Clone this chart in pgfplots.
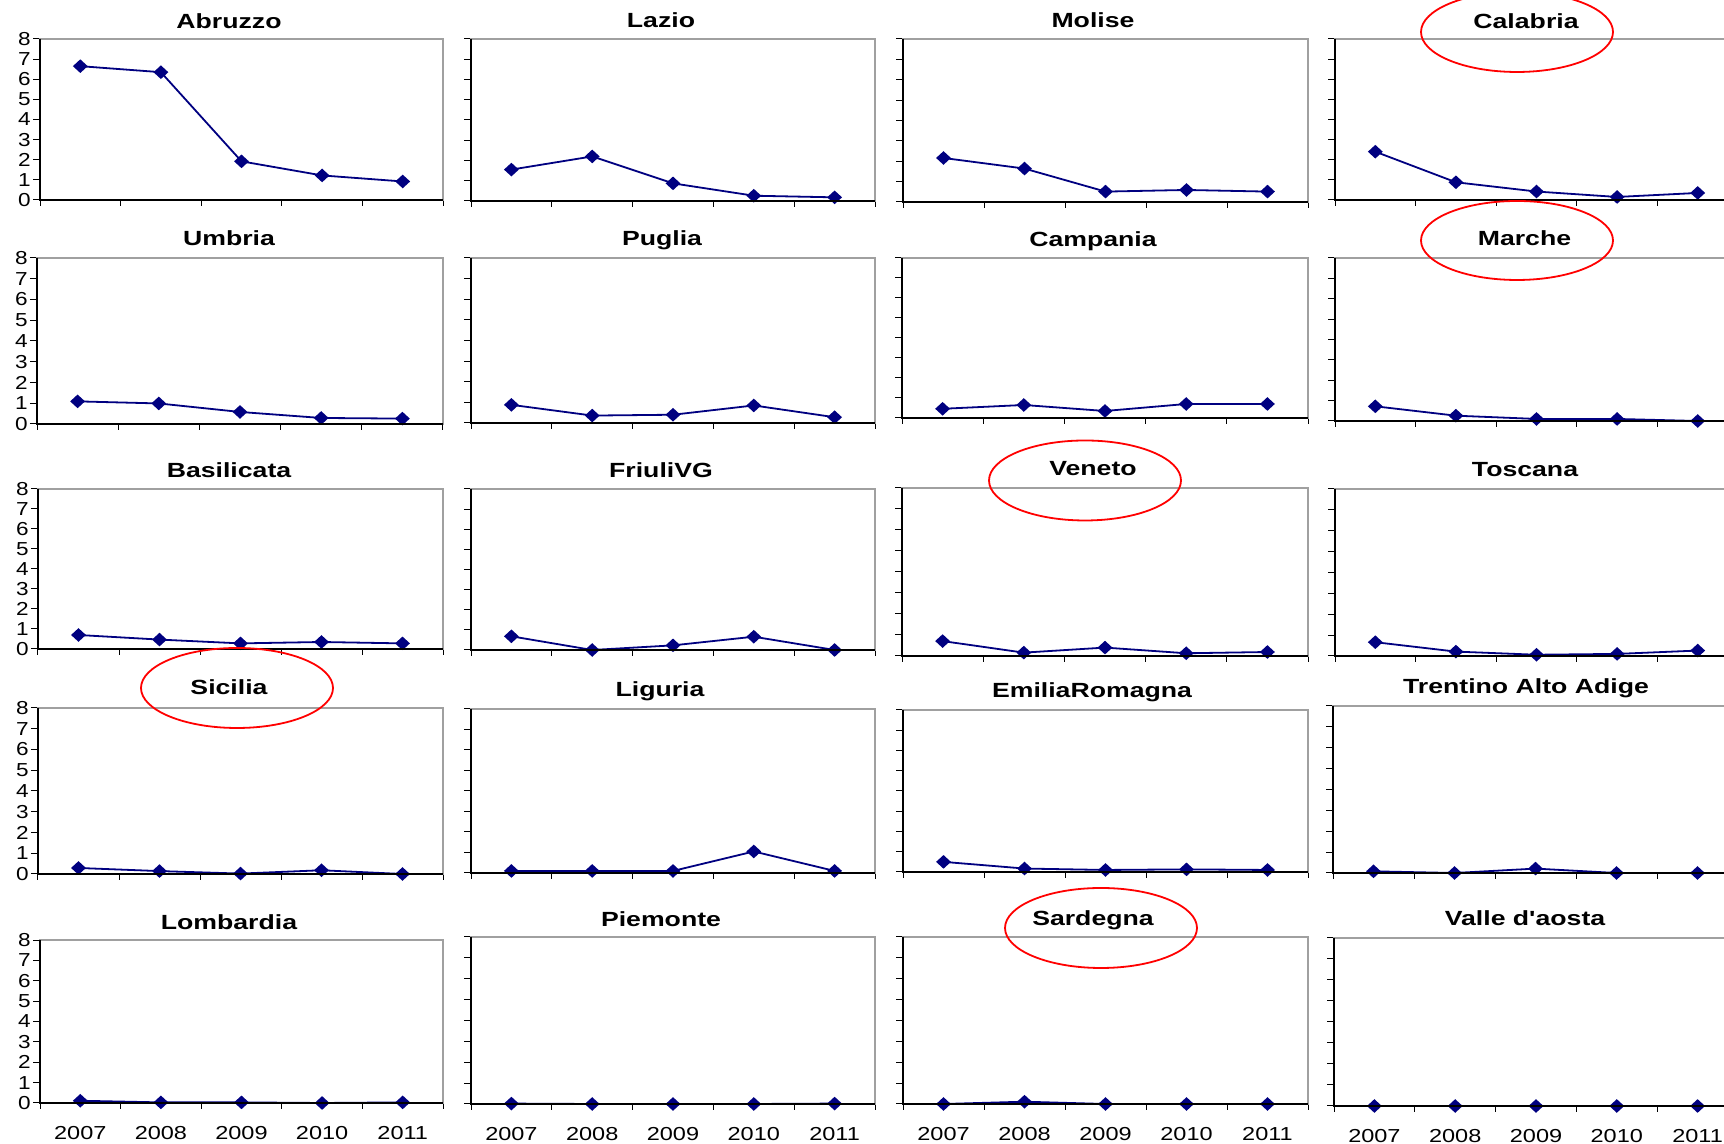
\documentclass[border=0pt]{standalone}
\usepackage{pgfplots}
\pgfplotsset{compat=1.18}
\usepackage{graphicx}
\usepackage{fontspec}
\setmainfont{Liberation Sans}
\definecolor{navyline}{RGB}{0,0,128}
\definecolor{framegray}{RGB}{160,160,160}
\newcommand{\Y}[1]{\scalebox{1.2}[1]{\fontsize{9.4pt}{10pt}\selectfont #1}}
\newcommand{\X}[1]{\scalebox{1.25}[1]{\fontsize{9.4pt}{11pt}\selectfont #1}}
\newcommand{\T}[1]{\scalebox{1.3}[1]{\fontsize{10.25pt}{12pt}\selectfont\bfseries #1}}
\pgfplotsset{
  panel/.style={
    scale only axis, anchor=south west,
    xmin=0.5, xmax=5.5, ymin=0, ymax=8,
    xtick={1,2,3,4,5}, xticklabels={},
    minor xtick={0.5,1.5,2.5,3.5,4.5,5.5},
    ytick={0,1,2,3,4,5,6,7,8}, yticklabels={},
    tick pos=left, tick align=outside,
    major tick length=3.5pt, minor tick length=3pt,
    major x tick style={draw=none},
    tick style={black, line width=0.5pt},
    axis line style={draw=framegray, line width=0.6pt},
    clip=false,
    after end axis/.code={\draw[black, line width=0.7pt] (rel axis cs:0,1) -- (rel axis cs:0,0) -- (rel axis cs:1,0);},
  },
  ser/.style={navyline, line width=0.9pt, mark=diamond*, mark size=2.8pt,
      mark options={xscale=1.45, solid, fill=navyline, draw=navyline}},
  ylab/.style={yticklabels={\Y{0},\Y{1},\Y{2},\Y{3},\Y{4},\Y{5},\Y{6},\Y{7},\Y{8}},
    yticklabel style={inner sep=1pt}},
  xlab/.style={xticklabels={\X{2007},\X{2008},\X{2009},\X{2010},\X{2011}},
    xticklabel style={inner sep=0pt, yshift=-8pt}},
}
\begin{document}
\begin{tikzpicture}
% Row 1
\begin{axis}[panel, ylab, at={(20pt,472pt)}, width=201.5pt, height=80.5pt]
\addplot[ser] coordinates {(1,6.65) (2,6.35) (3,1.92) (4,1.22) (5,0.92)};
\end{axis}
\begin{axis}[panel, at={(235.5pt,471.5pt)}, width=202pt, height=81pt]
\addplot[ser] coordinates {(1,1.55) (2,2.2) (3,0.87) (4,0.26) (5,0.18)};
\end{axis}
\begin{axis}[panel, at={(451.5pt,471pt)}, width=202.5pt, height=81.5pt]
\addplot[ser] coordinates {(1,2.16) (2,1.64) (3,0.51) (4,0.59) (5,0.51)};
\end{axis}
\begin{axis}[panel, at={(667.5pt,472pt)}, width=201.5pt, height=80.5pt]
\addplot[ser] coordinates {(1,2.4) (2,0.88) (3,0.42) (4,0.15) (5,0.35)};
\end{axis}
% Row 2
\begin{axis}[panel, ylab, at={(18.5pt,360pt)}, width=203pt, height=83pt]
\addplot[ser] coordinates {(1,1.09) (2,0.99) (3,0.58) (4,0.29) (5,0.26)};
\end{axis}
\begin{axis}[panel, at={(235.5pt,360.5pt)}, width=202pt, height=82.5pt]
\addplot[ser] coordinates {(1,0.88) (2,0.36) (3,0.40) (4,0.85) (5,0.28)};
\end{axis}
\begin{axis}[panel, at={(451pt,363pt)}, width=203pt, height=80pt]
\addplot[ser] coordinates {(1,0.46) (2,0.65) (3,0.35) (4,0.70) (5,0.70)};
\end{axis}
\begin{axis}[panel, at={(667.5pt,361.5pt)}, width=201.5pt, height=81.5pt]
\addplot[ser] coordinates {(1,0.72) (2,0.26) (3,0.10) (4,0.10) (5,0.0)};
\end{axis}
% Row 3
\begin{axis}[panel, ylab, at={(19pt,247.5pt)}, width=202.5pt, height=80pt]
\addplot[ser] coordinates {(1,0.70) (2,0.47) (3,0.28) (4,0.35) (5,0.28)};
\end{axis}
\begin{axis}[panel, at={(235.5pt,247pt)}, width=202pt, height=80.5pt]
\addplot[ser] coordinates {(1,0.68) (2,0.0) (3,0.23) (4,0.66) (5,0.0)};
\end{axis}
\begin{axis}[panel, at={(451pt,244pt)}, width=203pt, height=84pt]
\addplot[ser] coordinates {(1,0.71) (2,0.16) (3,0.40) (4,0.13) (5,0.19)};
\end{axis}
\begin{axis}[panel, at={(667.5pt,244pt)}, width=201.5pt, height=83.5pt]
\addplot[ser] coordinates {(1,0.66) (2,0.21) (3,0.06) (4,0.10) (5,0.26)};
\end{axis}
% Row 4
\begin{axis}[panel, ylab, at={(19pt,135pt)}, width=202.5pt, height=83pt]
\addplot[ser] coordinates {(1,0.29) (2,0.14) (3,0.02) (4,0.18) (5,0.0)};
\end{axis}
\begin{axis}[panel, at={(235.5pt,135.5pt)}, width=202pt, height=82pt]
\addplot[ser] coordinates {(1,0.1) (2,0.1) (3,0.1) (4,1.05) (5,0.1)};
\end{axis}
\begin{axis}[panel, at={(451.5pt,136pt)}, width=202.5pt, height=81pt]
\addplot[ser] coordinates {(1,0.5) (2,0.17) (3,0.1) (4,0.13) (5,0.1)};
\end{axis}
\begin{axis}[panel, at={(666.5pt,135.5pt)}, width=202.5pt, height=83.5pt]
\addplot[ser] coordinates {(1,0.08) (2,0.0) (3,0.21) (4,0.0) (5,0.0)};
\end{axis}
% Row 5
\begin{axis}[panel, ylab, xlab, at={(20pt,20.5pt)}, width=201.5pt, height=81.5pt]
\addplot[ser] coordinates {(1,0.11) (2,0.03) (3,0.03) (4,0.0) (5,0.03)};
\end{axis}
\begin{axis}[panel, xlab, at={(235.5pt,20pt)}, width=202pt, height=83.5pt]
\addplot[ser] coordinates {(1,0.02) (2,0.0) (3,0.0) (4,0.0) (5,0.02)};
\end{axis}
\begin{axis}[panel, xlab, at={(451.5pt,20pt)}, width=202.5pt, height=83.5pt]
\addplot[ser] coordinates {(1,0.0) (2,0.11) (3,0.0) (4,0.0) (5,0.0)};
\end{axis}
\begin{axis}[panel, xlab, at={(667pt,19pt)}, width=202pt, height=84pt]
\addplot[ser] coordinates {(1,0) (2,0) (3,0) (4,0) (5,0)};
\end{axis}
% Titles and ellipses
\begin{scope}[x=0.5pt,y=-0.5pt,shift={(0pt,572pt)}]
\node[anchor=base,inner sep=0pt] at (229,29) {\T{Abruzzo}};
\node[anchor=base,inner sep=0pt] at (661,28) {\T{Lazio}};
\node[anchor=base,inner sep=0pt] at (1093,28) {\T{Molise}};
\node[anchor=base,inner sep=0pt] at (1526,29) {\T{Calabria}};
\node[anchor=base,inner sep=0pt] at (229,246) {\T{Umbria}};
\node[anchor=base,inner sep=0pt] at (662,246) {\T{Puglia}};
\node[anchor=base,inner sep=0pt] at (1093,247) {\T{Campania}};
\node[anchor=base,inner sep=0pt] at (1524.5,246) {\T{Marche}};
\node[anchor=base,inner sep=0pt] at (229,478) {\T{Basilicata}};
\node[anchor=base,inner sep=0pt] at (661,478) {\T{FriuliVG}};
\node[anchor=base,inner sep=0pt] at (1093,476) {\T{Veneto}};
\node[anchor=base,inner sep=0pt] at (1525,477) {\T{Toscana}};
\node[anchor=base,inner sep=0pt] at (229,695) {\T{Sicilia}};
\node[anchor=base,inner sep=0pt] at (660,697) {\T{Liguria}};
\node[anchor=base,inner sep=0pt] at (1092,698) {\T{EmiliaRomagna}};
\node[anchor=base,inner sep=0pt] at (1526,694) {\T{Trentino Alto Adige}};
\node[anchor=base,inner sep=0pt] at (229,930) {\T{Lombardia}};
\node[anchor=base,inner sep=0pt] at (661,927) {\T{Piemonte}};
\node[anchor=base,inner sep=0pt] at (1093,926) {\T{Sardegna}};
\node[anchor=base,inner sep=0pt] at (1525,926) {\T{Valle d\textquotesingle aosta}};
\draw[red, line width=0.9pt] (1517,32) ellipse [x radius=48pt, y radius=20pt];
\draw[red, line width=0.9pt] (1517,240.5) ellipse [x radius=48pt, y radius=19.75pt];
\draw[red, line width=0.9pt] (1085,480.5) ellipse [x radius=48pt, y radius=20pt];
\draw[red, line width=0.9pt] (237,688) ellipse [x radius=48pt, y radius=20pt];
\draw[red, line width=0.9pt] (1101,928) ellipse [x radius=48pt, y radius=20pt];
\end{scope}
\pgfresetboundingbox
\path[use as bounding box] (0pt,0pt) rectangle (862pt,572pt);
\end{tikzpicture}
\end{document}
